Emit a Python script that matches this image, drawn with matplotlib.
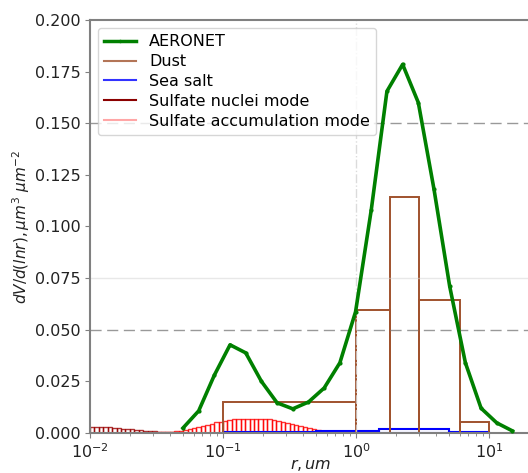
import matplotlib
matplotlib.use("Agg")
import matplotlib.pyplot as plt
import numpy as np
from matplotlib.lines import Line2D
from matplotlib.ticker import FormatStrFormatter, MultipleLocator

# AERONET retrieval (22 standard radius bins)
aeronet_r = [0.05, 0.065604, 0.086077, 0.112939, 0.148184, 0.194429, 0.255105,
             0.334716, 0.439173, 0.576227, 0.756052, 0.991992, 1.301571,
             1.707757, 2.240702, 2.939966, 3.857452, 5.061260, 6.640745,
             8.713145, 11.432287, 15.0]
aeronet_dv = [0.0024, 0.0107, 0.028, 0.0427, 0.0388, 0.025, 0.0146,
              0.0117, 0.015, 0.0218, 0.034, 0.0587, 0.108,
              0.1655, 0.1785, 0.160, 0.118, 0.071, 0.034,
              0.012, 0.0049, 0.001]

# Dust bins
dust_edges = [0.1, 1.0, 1.8, 3.0, 6.0, 10.0]
dust_dv = [0.015, 0.0595, 0.1145, 0.0645, 0.0053]

# Sea salt bins
salt_edges = [0.1, 0.5, 1.5, 5.0, 10.0]
salt_dv = [0.0004, 0.0012, 0.0017, 0.0006]

# Sulfate bins (30 per decade from 0.01 um)
sulf_edges = 0.01 * 10 ** (np.arange(64) / 30)
nuclei_dv = [0.0030, 0.0030, 0.0029, 0.0028, 0.0027, 0.0025, 0.0023, 0.0021,
             0.0019, 0.0017, 0.0015, 0.0013, 0.0011, 0.0009, 0.0008, 0.0006,
             0.0005, 0.0004, 0.0003, 0.0002, 0.0002, 0.0001, 0.0001, 0.00005]
accum_dv = [0, 0, 0, 0, 0, 0, 0, 0, 0, 0, 0, 0, 0, 0,
            0.0002, 0.0003, 0.0004, 0.0005, 0.0006, 0.0008, 0.0011,
            0.0015, 0.0019, 0.0024, 0.0029, 0.0034, 0.0040, 0.0046, 0.0051,
            0.0055, 0.0058, 0.0063, 0.0067, 0.0068, 0.0068, 0.0068, 0.0068,
            0.0068, 0.0068, 0.0068, 0.0066, 0.0062, 0.0058, 0.0054, 0.0049,
            0.0044, 0.0038, 0.0033, 0.0028, 0.0023, 0.0019, 0.0015, 0.0012,
            0.0009, 0.0007, 0.0005, 0.0004, 0.0003, 0.0002, 0.0001, 0.0001,
            0.0001, 0.00005]


def edge_bars(ax, edges, values, **kw):
    edges = np.asarray(edges)
    n = len(values)
    ax.bar(edges[:n], values, width=np.diff(edges)[:n], align="edge",
           fill=False, **kw)


fig = plt.figure(figsize=(5.28, 4.73), dpi=100)
ax = fig.add_axes([90 / 528, 40 / 473, 442 / 528, 413 / 473])
ax.set_xscale("log")

edge_bars(ax, sulf_edges, nuclei_dv, edgecolor=(0.6, 0, 0, 0.8), linewidth=1)
edge_bars(ax, sulf_edges, accum_dv, edgecolor=(1, 0, 0, 0.8), linewidth=1)
edge_bars(ax, salt_edges, salt_dv, edgecolor="blue", linewidth=1.5)
edge_bars(ax, dust_edges, dust_dv, edgecolor="sienna", linewidth=1.4)

ax.plot(aeronet_r, aeronet_dv, color="green", linewidth=2.6, marker=".",
        markersize=4, zorder=5)

# grid lines
ax.axhline(0.05, color="gray", linestyle=(0, (8, 4)), linewidth=1, alpha=0.8)
ax.axhline(0.15, color="gray", linestyle=(0, (8, 4)), linewidth=1, alpha=0.8)
ax.axhline(0.075, color="lightgray", linewidth=1, alpha=0.5)
ax.axvline(1.0, color="lightgray", linestyle="-.", linewidth=1, alpha=0.8)

ax.set_xlim(0.01, 10 ** 1.323)
ax.set_ylim(0, 0.2)
ax.yaxis.set_major_locator(MultipleLocator(0.025))
ax.yaxis.set_major_formatter(FormatStrFormatter("%.3f"))

for side in ["left", "bottom", "top", "right"]:
    ax.spines[side].set_color("gray")
    ax.spines[side].set_linewidth(1.5)
ax.tick_params(which="both", colors="gray", labelcolor="#222222",
               labelsize=11.5)

ax.set_xlabel(r"$r, um$", fontsize=11.5, color="#222222", labelpad=-3)
ax.set_ylabel(r"$dV/d(lnr), \mu m^3\ \mu m^{-2}$", fontsize=11,
              color="#222222", labelpad=2)

handles = [
    Line2D([], [], color="green", linewidth=2.5, marker=".", markersize=3),
    Line2D([], [], color="sienna", linewidth=1.5, alpha=0.8),
    Line2D([], [], color="blue", linewidth=1.5, alpha=0.8),
    Line2D([], [], color="darkred", linewidth=1.5),
    Line2D([], [], color="red", linewidth=1.5, alpha=0.35),
]
labels = ["AERONET", "Dust", "Sea salt", "Sulfate nuclei mode",
          "Sulfate accumulation mode"]
leg = ax.legend(handles, labels, loc="upper left", fontsize=11.5,
                labelspacing=0.3, handlelength=2.0)
leg.set_zorder(10)

fig.savefig("out.png", dpi=100)
